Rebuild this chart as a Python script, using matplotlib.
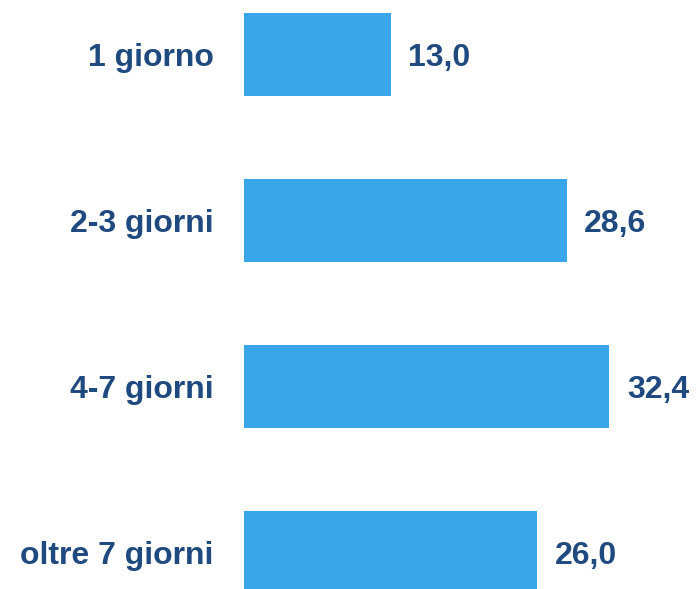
import matplotlib
matplotlib.use("Agg")
import matplotlib.pyplot as plt

categories = ["1 giorno", "2-3 giorni", "4-7 giorni", "oltre 7 giorni"]
values = [13.0, 28.6, 32.4, 26.0]
value_labels = ["13,0", "28,6", "32,4", "26,0"]

bar_color = "#38A6E8"
text_color = "#1F4A80"
font = dict(family="Liberation Sans", fontsize=23, fontweight="bold", color=text_color)

fig = plt.figure(figsize=(6.96, 5.89), dpi=100)
ax = fig.add_axes([244 / 696, 0, 452 / 696, 1])

pos = list(range(len(categories)))
ax.barh(pos, values, height=0.5, color=bar_color, edgecolor="none")

ax.set_xlim(0, 452 / 11.28)
ax.set_ylim(3 + 36.5 / 166, -54.5 / 166)
ax.set_xticks([])
ax.set_yticks([])
for s in ax.spines.values():
    s.set_visible(False)

# category names to the left of the bars
for p, cat in zip(pos, categories):
    ax.annotate(cat, xy=(0, p), xytext=(-22, -8.0), textcoords="offset points",
                ha="right", va="baseline", annotation_clip=False, **font)

# values to the right of the bar ends
for p, v, lab in zip(pos, values, value_labels):
    ax.annotate(lab, xy=(v, p), xytext=(12.6, -8.6), textcoords="offset points",
                ha="left", va="baseline", annotation_clip=False, **font)

fig.savefig("out.png", dpi=100)
